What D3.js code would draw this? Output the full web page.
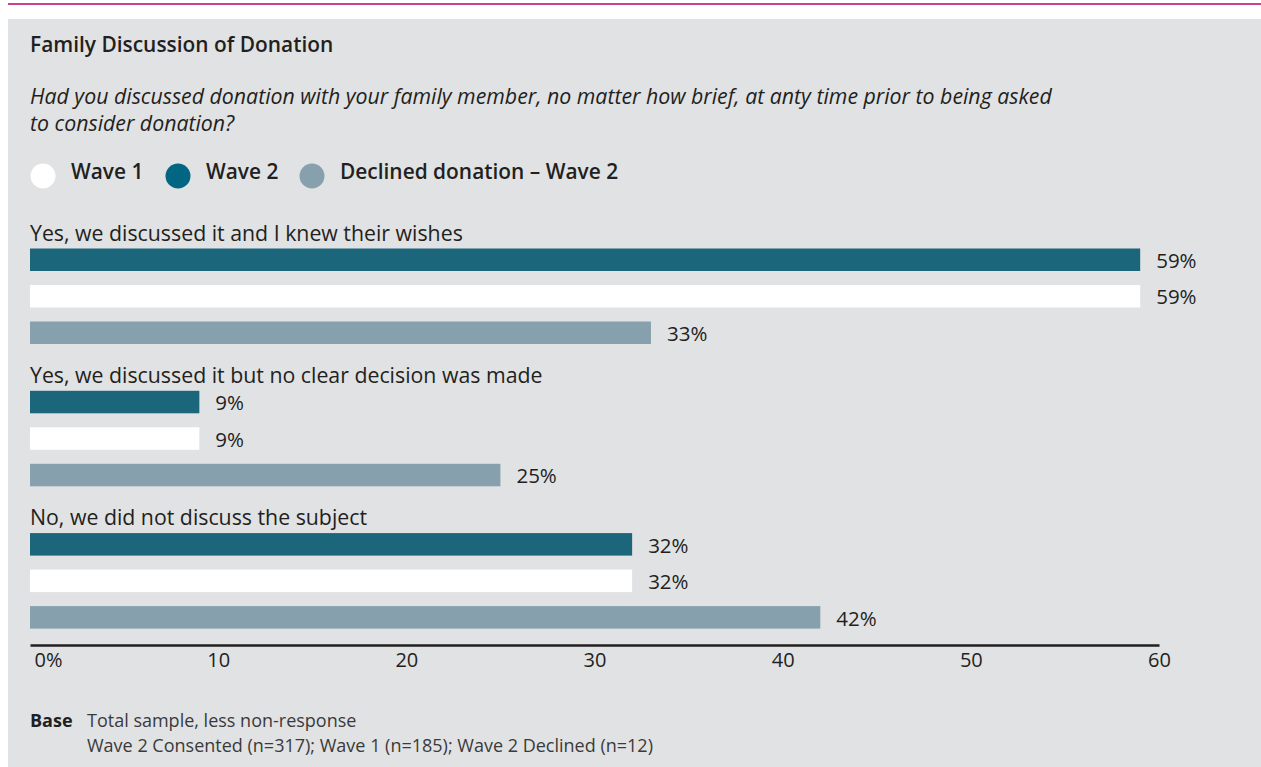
<!DOCTYPE html>
<html>
<head>
<meta charset="utf-8">
<script src="https://cdn.jsdelivr.net/npm/d3@7/dist/d3.min.js"></script>
<style>
  html, body { margin: 0; padding: 0; background: #ffffff; }
  svg { display: block; font-family: "Open Sans", "Noto Sans", sans-serif; }
</style>
</head>
<body>
<svg id="chart" width="1261" height="767"></svg>
<script>
// Answer categories, in display order
const categories = [
  "Yes, we discussed it and I knew their wishes",
  "Yes, we discussed it but no clear decision was made",
  "No, we did not discuss the subject"
];
// Series, in bar order within each category
const seriesNames = ["Wave 2", "Wave 1", "Declined donation \u2013 Wave 2"];
const wave2Values    = [59, 9, 32];
const wave1Values    = [59, 9, 32];
const declinedValues = [33, 25, 42];
// Legend order
const legendOrder = ["Wave 1", "Wave 2", "Declined donation \u2013 Wave 2"];
// Axis ticks
const tickValues = [0, 10, 20, 30, 40, 50, 60];
const tickLabels = ["0%", "10", "20", "30", "40", "50", "60"];

const valuesBySeries = {
  "Wave 2": wave2Values,
  "Wave 1": wave1Values,
  "Declined donation \u2013 Wave 2": declinedValues
};
const barColor = {
  "Wave 2": "#1b667a",
  "Wave 1": "#ffffff",
  "Declined donation \u2013 Wave 2": "#87a0ad"
};
const legendColor = {
  "Wave 1": "#ffffff",
  "Wave 2": "#006682",
  "Declined donation \u2013 Wave 2": "#87a0ad"
};
const textColor = "#231f20";

const svg = d3.select("#chart");

// Accent rule and panel
svg.append("rect").attr("x", 8).attr("y", 3).attr("width", 1253).attr("height", 2).attr("fill", "#c8448e");
svg.append("rect").attr("x", 8).attr("y", 19).attr("width", 1253).attr("height", 748).attr("fill", "#e1e2e4");

// Title
svg.append("text").attr("x", 30).attr("y", 52)
  .attr("font-size", 20.9).attr("font-weight", 600).attr("fill", textColor)
  .text("Family Discussion of Donation");

// Question
const q = svg.append("text").attr("font-size", 21.3).attr("font-style", "italic").attr("fill", textColor);
q.append("tspan").attr("x", 30).attr("y", 104)
  .text("Had you discussed donation with your family member, no matter how brief, at anty time prior to being asked");
q.append("tspan").attr("x", 30).attr("y", 131).text("to consider donation?");

// Legend
const legendX = [43, 178, 312];
const legend = svg.append("g");
legendOrder.forEach((name, i) => {
  legend.append("circle").attr("cx", legendX[i]).attr("cy", 176).attr("r", 12.5).attr("fill", legendColor[name]);
  legend.append("text").attr("x", legendX[i] + 28).attr("y", 179)
    .attr("font-size", 20.9).attr("font-weight", 600).attr("fill", textColor).text(name);
});

// Scales
const x = d3.scaleLinear().domain([0, 60]).range([30, 1159]);
const groupY = d3.scaleBand().domain(categories).range([248.5, 248.5 + 3 * 142.3]).paddingInner(0).paddingOuter(0);
const barY = d3.scaleBand().domain(seriesNames).range([0, 95.5]).paddingInner(0.3836).paddingOuter(0);

const groups = svg.append("g").selectAll("g")
  .data(categories)
  .join("g")
  .attr("transform", d => `translate(0,${groupY(d)})`);

groups.append("text")
  .attr("x", 30).attr("y", -8)
  .attr("font-size", 21.3).attr("fill", textColor)
  .text(d => d);

groups.each(function(cat, ci) {
  const g = d3.select(this);
  const rows = seriesNames.map(s => ({ s, v: valuesBySeries[s][ci] }));
  g.selectAll("rect.bar").data(rows).join("rect")
    .attr("class", "bar")
    .attr("x", x(0))
    .attr("y", d => barY(d.s))
    .attr("width", d => x(d.v) - x(0))
    .attr("height", barY.bandwidth())
    .attr("fill", d => barColor[d.s]);
  g.selectAll("text.val").data(rows).join("text")
    .attr("class", "val")
    .attr("x", d => x(d.v) + 16)
    .attr("y", d => barY(d.s) + barY.bandwidth() / 2 + 1)
    .attr("dy", "0.35em")
    .attr("font-size", 20.5).attr("fill", textColor)
    .text(d => d.v + "%");
});

// Axis
const axis = d3.axisBottom(x).tickValues(tickValues).tickSize(0).tickPadding(8)
  .tickFormat((d, i) => tickLabels[i]);
const axG = svg.append("g").attr("transform", "translate(0,645)").call(axis);
axG.select(".domain").attr("stroke", textColor).attr("stroke-width", 2.5);
axG.selectAll(".tick text").attr("font-size", 20).attr("fill", textColor)
  .attr("font-family", "\"Open Sans\", \"Noto Sans\", sans-serif");
axG.selectAll(".tick").filter(d => d === 0).select("text")
  .attr("text-anchor", "start").attr("dx", 4);

// Base note
const note = svg.append("g").attr("font-size", 18).attr("fill", textColor);
note.append("text").attr("x", 30).attr("y", 727).attr("font-weight", 700).text("Base");
note.append("text").attr("x", 87).attr("y", 727).attr("fill", "#3a3a3a").text("Total sample, less non-response");
note.append("text").attr("x", 87).attr("y", 752).attr("fill", "#3a3a3a")
  .text("Wave 2 Consented (n=317); Wave 1 (n=185); Wave 2 Declined (n=12)");
</script>
</body>
</html>
